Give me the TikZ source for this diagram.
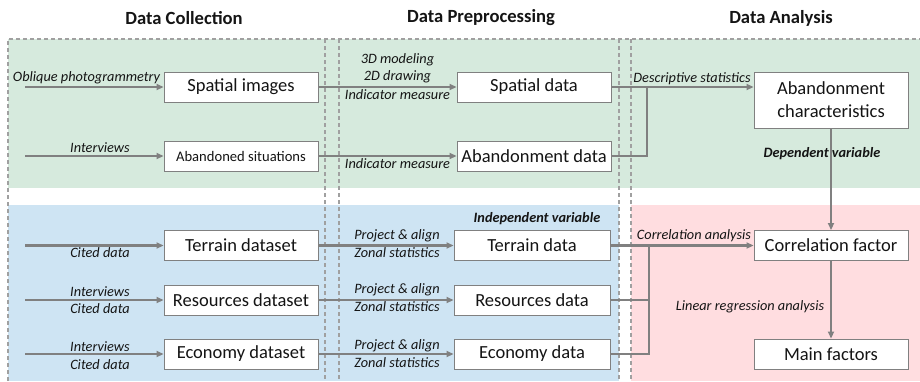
\documentclass[tikz,border=0pt]{standalone}
\usepackage{fontspec}
\setmainfont{Carlito}
\usetikzlibrary{arrows.meta}
\definecolor{bggreen}{RGB}{214,234,221}
\definecolor{bgblue}{RGB}{206,228,243}
\definecolor{bgpink}{RGB}{255,221,224}
\definecolor{linegray}{RGB}{128,128,128}
\definecolor{dashgray}{RGB}{160,160,160}
\definecolor{txt}{RGB}{20,20,20}
\tikzset{
  box/.style={draw=linegray, line width=0.9pt, fill=white, minimum width=154pt, minimum height=30pt, inner sep=0pt, font=\fontsize{18.5}{20}\selectfont, text=txt},
  sbox/.style={box, font=\fontsize{14.6}{16}\selectfont},
  lbl/.style={font=\fontsize{14.3}{15}\selectfont\itshape, text=txt, inner sep=0pt},
  blbl/.style={font=\fontsize{14.3}{15}\selectfont\bfseries\itshape, text=txt, inner sep=0pt},
  hdr/.style={font=\fontsize{18.6}{20}\selectfont\bfseries, text=txt, inner sep=0pt},
  arr/.style={draw=linegray, line width=2.2pt, -{Triangle[length=7pt,width=6pt]}},
  ln/.style={draw=linegray, line width=2.2pt},
  dsh/.style={draw=dashgray, line width=1.1pt, dash pattern=on 4pt off 3pt},
}
\begin{document}
\begin{tikzpicture}[x=1pt,y=-1pt]
\useasboundingbox (0,0) rectangle (920,381);
% backgrounds
\fill[bggreen] (8,39) rectangle (920,188);
\fill[bgblue] (8,205) rectangle (619,381);
\fill[bgpink] (631,205) rectangle (920,381);
% dashed borders
\draw[dsh] (8,381) -- (8,39) -- (920,39);
\draw[dsh] (325,39) -- (325,381);
\draw[dsh] (339,39) -- (339,381);
\draw[dsh] (619,39) -- (619,381);
\draw[dsh] (631,39) -- (631,381);
% headers
\node[hdr] (h1) at (184,18) {Data Collection};
\node[hdr] (h2) at (481,18) {Data Preprocessing};
\node[hdr] (h3) at (781,18) {Data Analysis};
% boxes
\node[box] (si) at (241,87) {Spatial images};
\node[sbox] (as) at (241,156) {Abandoned situations};
\node[box] (sd) at (534,87) {Spatial data};
\node[box] (ad) at (534,156) {Abandonment data};
\node[box, minimum height=56pt, align=center, font=\fontsize{18.5}{23}\selectfont] (ac) at (831,100) {Abandonment\\characteristics};
\node[box] (tds) at (241,245.5) {Terrain dataset};
\node[box] (rds) at (241,300) {Resources dataset};
\node[box] (eds) at (241,354) {Economy dataset};
\node[box, minimum width=156pt] (td) at (532,245.5) {Terrain data};
\node[box, minimum width=156pt] (rd) at (532,300) {Resources data};
\node[box, minimum width=156pt] (ed) at (532,354) {Economy data};
\node[box] (cf) at (831,245.5) {Correlation factor};
\node[box] (mf) at (831,354) {Main factors};
% input starts
\coordinate (i1) at (25,87);
\coordinate (i2) at (25,156);
\coordinate (i3) at (25,245.5);
\coordinate (i4) at (25,300);
\coordinate (i5) at (25,354);
\draw[arr] (i1) -- (si);
\draw[arr] (i2) -- (as);
\draw[arr] (i3) -- (tds);
\draw[arr] (i4) -- (rds);
\draw[arr] (i5) -- (eds);
% collection -> preprocessing
\draw[arr] (si) -- (sd);
\draw[arr] (as) -- (ad);
\draw[arr] (tds) -- (td);
\draw[arr] (rds) -- (rd);
\draw[arr] (eds) -- (ed);
% analysis
\coordinate (j1) at (647,87);
\draw[arr] (sd.east) -- (sd.east -| ac.west);
\draw[ln] (ad.east) -| (j1);
\draw[arr] (ac) -- (cf);
\coordinate (j2) at (649,245.5);
\draw[arr] (td) -- (cf);
\draw[ln] (rd.east) -| (j2);
\draw[ln] (ed.east) -| (j2);
\draw[arr] (cf) -- (mf);
% labels
\node[lbl] (l1) at (86.5,78) {Oblique photogrammetry};
\node[lbl] (l2) at (100,148) {Interviews};
\node[lbl] (l3) at (100,253) {Cited data};
\node[lbl] (l4) at (100,292) {Interviews};
\node[lbl] (l5) at (100,309) {Cited data};
\node[lbl] (l6) at (100,347) {Interviews};
\node[lbl] (l7) at (100,365) {Cited data};
\node[lbl] (p1) at (397.5,60) {3D modeling};
\node[lbl] (p2) at (397.5,77) {2D drawing};
\node[lbl] (p3) at (397.5,95) {Indicator measure};
\node[lbl] (p4) at (397.5,164) {Indicator measure};
\node[lbl] (p5) at (397,236) {Project \& align};
\node[lbl] (p6) at (397,253) {Zonal statistics};
\node[lbl] (p7) at (397,290) {Project \& align};
\node[lbl] (p8) at (397,307) {Zonal statistics};
\node[lbl] (p9) at (397,346) {Project \& align};
\node[lbl] (p10) at (397,363) {Zonal statistics};
\node[lbl] (a1) at (692,79) {Descriptive statistics};
\node[blbl] (a2) at (822,154) {Dependent variable};
\node[blbl] (a3) at (537,219) {Independent variable};
\node[lbl] (a4) at (694,236) {Correlation analysis};
\node[lbl] (a5) at (750,307) {Linear regression analysis};
\end{tikzpicture}
\end{document}
